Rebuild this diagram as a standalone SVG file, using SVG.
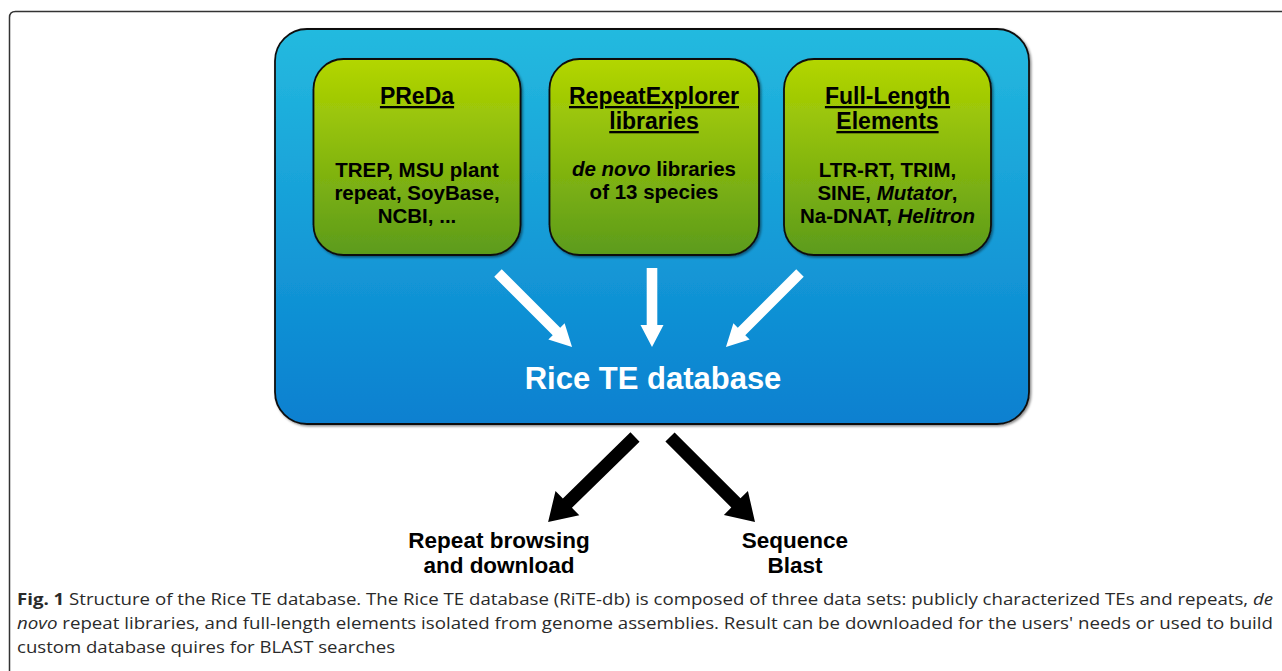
<svg xmlns="http://www.w3.org/2000/svg" width="1282" height="671" viewBox="0 0 1282 671">
  <defs>
    <linearGradient id="gBlue" x1="0" y1="0" x2="0" y2="1">
      <stop offset="0" stop-color="#24badf"/>
      <stop offset="1" stop-color="#0880d0"/>
    </linearGradient>
    <linearGradient id="gGreen" x1="0" y1="0" x2="0" y2="1">
      <stop offset="0" stop-color="#b3d600"/>
      <stop offset="1" stop-color="#5c9b1c"/>
    </linearGradient>
    <filter id="sh" x="-5%" y="-5%" width="110%" height="110%">
      <feDropShadow dx="1.5" dy="1.5" stdDeviation="1" flood-color="#000" flood-opacity="0.45"/>
    </filter>
  </defs>
  <style>
    .frame{fill:none;stroke:#333;stroke-width:1.5}
    .blue{fill:url(#gBlue);stroke:#111;stroke-width:1.8}
    .green{fill:url(#gGreen);stroke:#111;stroke-width:1.8}
    .title{font-family:"Liberation Sans",Arial,sans-serif;font-weight:bold;font-size:23px;fill:#000;text-anchor:middle;text-decoration:underline}
    .body{font-family:"Liberation Sans",Arial,sans-serif;font-weight:bold;font-size:20.5px;fill:#000;text-anchor:middle}
    .db{font-family:"Liberation Sans",Arial,sans-serif;font-weight:bold;font-size:31px;fill:#fff;text-anchor:middle}
    .out{font-family:"Liberation Sans",Arial,sans-serif;font-weight:bold;font-size:22.5px;fill:#000;text-anchor:middle}
    .cap{font-family:"Open Sans","Liberation Sans",sans-serif;font-size:16.5px;fill:#2a2a2a}
    .wa{fill:#fff}
    .ba{fill:#000}
  </style>

  <path class="frame" d="M9.5,671 V17.5 Q9.5,11.5 15.5,11.5 H1282"/>

  <g id="rice-te-db">
    <rect class="blue" x="275" y="29" width="754" height="395" rx="32" ry="32" filter="url(#sh)"/>
    <text class="db" x="653" y="389">Rice TE database</text>
  </g>

  <g id="preda">
    <rect class="green" x="313.5" y="59" width="207" height="196" rx="30" ry="30" filter="url(#sh)"/>
    <text class="title" x="417" y="104">PReDa</text>
    <text class="body" x="417" y="177">TREP, MSU plant</text>
    <text class="body" x="417" y="200">repeat, SoyBase,</text>
    <text class="body" x="417" y="223">NCBI, ...</text>
  </g>

  <g id="repeatexplorer">
    <rect class="green" x="549.5" y="59" width="209.5" height="196" rx="30" ry="30" filter="url(#sh)"/>
    <text class="title" x="654" y="104">RepeatExplorer</text>
    <text class="title" x="654" y="129">libraries</text>
    <text class="body" x="654" y="176"><tspan font-style="italic">de novo</tspan> libraries</text>
    <text class="body" x="654" y="199">of 13 species</text>
  </g>

  <g id="full-length">
    <rect class="green" x="784" y="59" width="207" height="196" rx="30" ry="30" filter="url(#sh)"/>
    <text class="title" x="887.5" y="104">Full-Length</text>
    <text class="title" x="887.5" y="129">Elements</text>
    <text class="body" x="887.5" y="177">LTR-RT, TRIM,</text>
    <text class="body" x="887.5" y="200">SINE, <tspan font-style="italic">Mutator</tspan>,</text>
    <text class="body" x="887.5" y="223">Na-DNAT, <tspan font-style="italic">Helitron</tspan></text>
  </g>

  <g id="repeat-browsing">
    <text class="out" x="499" y="548">Repeat browsing</text>
    <text class="out" x="499" y="573">and download</text>
  </g>

  <g id="sequence-blast">
    <text class="out" x="795" y="548">Sequence</text>
    <text class="out" x="795" y="573">Blast</text>
  </g>

  <g id="connectors">
    <path class="wa" transform="translate(498,273) rotate(45)" d="M0,-5.3 H82.7 V-11.5 L104.7,0 L82.7,11.5 V5.3 H0 Z"/>
    <path class="wa" transform="translate(652,268) rotate(90)" d="M0,-5.3 H57 V-11.5 L79,0 L57,11.5 V5.3 H0 Z"/>
    <path class="wa" transform="translate(800,273) rotate(135)" d="M0,-5.3 H82.7 V-11.5 L104.7,0 L82.7,11.5 V5.3 H0 Z"/>
    <path class="ba" transform="translate(635,437) rotate(135.6)" d="M0,-6.5 H94.6 V-17 L121.6,0 L94.6,17 V6.5 H0 Z"/>
    <path class="ba" transform="translate(670,437) rotate(45)" d="M0,-6.5 H93.2 V-17 L120.2,0 L93.2,17 V6.5 H0 Z"/>
  </g>

  <g id="caption">
    <text class="cap" x="17" y="605" textLength="1256" lengthAdjust="spacingAndGlyphs"><tspan font-weight="bold">Fig. 1</tspan> Structure of the Rice TE database. The Rice TE database (RiTE-db) is composed of three data sets: publicly characterized TEs and repeats, <tspan font-style="italic">de</tspan></text>
    <text class="cap" x="17" y="629" textLength="1256" lengthAdjust="spacingAndGlyphs"><tspan font-style="italic">novo</tspan> repeat libraries, and full-length elements isolated from genome assemblies. Result can be downloaded for the users' needs or used to build</text>
    <text class="cap" x="17" y="653" textLength="378" lengthAdjust="spacingAndGlyphs">custom database quires for BLAST searches</text>
  </g>
</svg>
